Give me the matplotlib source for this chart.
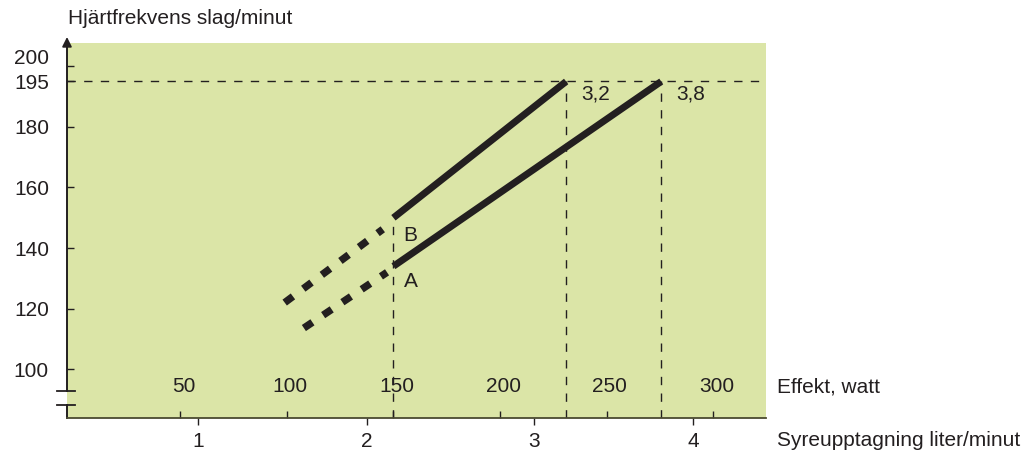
import numpy as np
import matplotlib.pyplot as plt
import matplotlib.transforms as mtransforms

plt.rcParams['font.family'] = ['Liberation Sans', 'DejaVu Sans']

# data
watt_ticks = [50, 100, 150, 200, 250, 300]
liter_ticks = [1, 2, 3, 4]
liter_at_watt = [58.4, 137.5, 216.1, 290.5]   # where the liter ticks sit on the watt scale
hr_ticks = [100, 120, 140, 160, 180, 195, 200]

max_hr = 195
vo2_max = [3.2, 3.8]
vo2_labels = ["3,2", "3,8"]

# solid parts of the lines (watt, bpm)
b_watt = [150, 231.0]
b_hr = [150, 195]
a_watt = [150, 275.6]
a_hr = [134, 195]
# dotted extrapolation below 150 W
b_dot_watt = [99, 145]
b_dot_hr = [122, 146.2]
a_dot_watt = [108, 147]
a_dot_hr = [113.6, 132]

green = "#dbe5a7"
dark = "#231f20"

fig = plt.figure(figsize=(10.24, 4.61), dpi=100)
ax = fig.add_axes([67 / 1024, 1 - 418 / 461, 698.7 / 1024, 375 / 461])
ax.set_facecolor(green)
ax.set_xlim(-3.1, 324.6)
ax.set_ylim(83.9, 207.7)
for s in ["top", "right", "left"]:
    ax.spines[s].set_visible(False)
ax.spines["bottom"].set_color("#4a4a30")
ax.spines["bottom"].set_linewidth(1.3)

# y ticks (200 label drawn by hand, it sits a bit higher than its tick)
ax.set_yticks(hr_ticks)
ax.set_yticklabels([str(v) if v != 200 else "" for v in hr_ticks],
                   fontsize=15, color=dark)
ax.tick_params(axis="y", direction="in", length=5, width=1, color=dark, pad=13)
yt = ax.get_yaxis_transform()
off = mtransforms.ScaledTranslation(-18 / 100, 8 / 100, fig.dpi_scale_trans)
ax.text(0, 200, "200", transform=yt + off, ha="right", va="center",
        fontsize=15, color=dark)

# watt ticks inside, labels inside the green area
ax.set_xticks(watt_ticks)
ax.set_xticklabels([])
ax.tick_params(axis="x", direction="in", length=5, width=1, color=dark)
xt = ax.get_xaxis_transform()
for w in watt_ticks:
    ax.text(w + 1.5, 0.083, str(w), transform=xt, ha="center", va="center",
            fontsize=15, color=dark)
ax.text(1.016, 0.083, "Effekt, watt", transform=ax.transAxes, ha="left",
        va="center", fontsize=15, color=dark)

# liter axis below
sec = ax.secondary_xaxis("bottom")
sec.set_xticks(liter_at_watt)
sec.set_xticklabels([str(v) for v in liter_ticks], fontsize=15, color=dark)
sec.tick_params(direction="out", length=5, width=1, color=dark, pad=5)
sec.spines["bottom"].set_visible(False)
ax.text(1.016, -0.06, "Syreupptagning liter/minut", transform=ax.transAxes,
        ha="left", va="center", fontsize=15, color=dark)

# y axis line with break and arrow
ax.plot([0, 0], [83.9, 88.2], transform=yt, color=dark, lw=1.4, clip_on=False)
ax.plot([0, 0], [92.9, 207.7], transform=yt, color=dark, lw=1.4, clip_on=False)
for yb in [88.2, 92.9]:
    ax.plot([-0.014, 0.012], [yb, yb], transform=yt, color=dark, lw=1.3, clip_on=False)
ax.annotate("", xy=(0, 210.6), xycoords=yt, xytext=(0, 206), textcoords=yt,
            arrowprops=dict(arrowstyle="-|>", color=dark, lw=1.3,
                            mutation_scale=14), annotation_clip=False)
fig.text(68 / 1024, 1 - 18 / 461, "Hjärtfrekvens slag/minut", ha="left",
         va="center", fontsize=15, color=dark)

# guide lines
vo2_watt = np.interp(vo2_max, liter_ticks, liter_at_watt)
ax.plot([-3.1, 324.6], [max_hr, max_hr], color=dark, lw=1, ls=(0, (6, 6)))
ax.plot([150, 150], [83.9, b_hr[0]], color=dark, lw=1, ls=(0, (6, 6)))
for w in vo2_watt:
    ax.plot([w, w], [83.9, max_hr], color=dark, lw=1, ls=(0, (6, 6)))
for w, lab in zip(vo2_watt, vo2_labels):
    ax.text(w + 14, 191, lab, ha="center", va="center", fontsize=15, color=dark)

# the two lines
ax.plot(b_watt, b_hr, color=dark, lw=5, solid_capstyle="butt")
ax.plot(a_watt, a_hr, color=dark, lw=5, solid_capstyle="butt")
ax.plot(b_dot_watt, b_dot_hr, color=dark, lw=5.3, ls=(0, (1.4, 1.75)),
        dash_capstyle="butt")
ax.plot(a_dot_watt, a_dot_hr, color=dark, lw=5.3, ls=(0, (1.4, 1.75)),
        dash_capstyle="butt")
ax.text(158, 144.2, "B", ha="center", va="center", fontsize=15, color=dark)
ax.text(158, 129, "A", ha="center", va="center", fontsize=15, color=dark)

fig.savefig("out.png", dpi=100)
